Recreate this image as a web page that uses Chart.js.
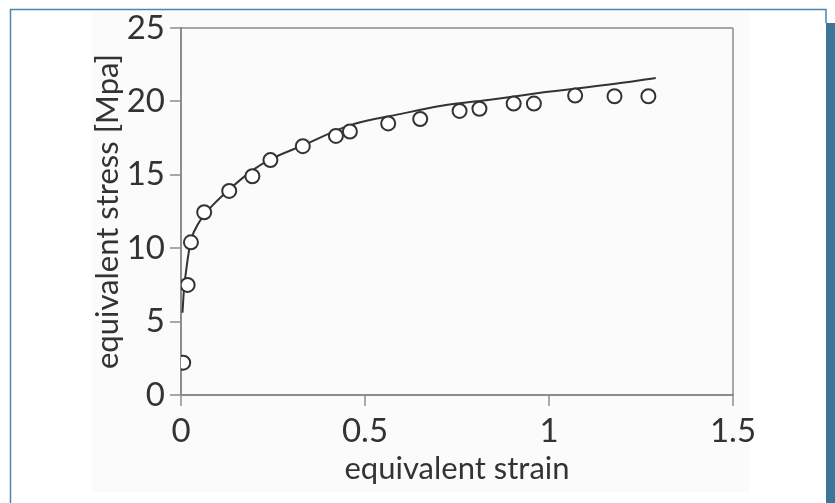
<!DOCTYPE html>
<html>
<head>
<meta charset="utf-8">
<script src="https://cdn.jsdelivr.net/npm/chart.js@4/dist/chart.umd.min.js"></script>
<style>
  html, body { margin: 0; padding: 0; background: #fff; }
  #wrap { width: 835px; height: 503px; position: relative; }
</style>
</head>
<body>
<div id="wrap"><canvas id="myChart"></canvas></div>
<script>
// measured points
const strainPts = [0.006, 0.018, 0.027, 0.063, 0.131, 0.194, 0.243, 0.331, 0.421, 0.459, 0.563, 0.650, 0.757, 0.811, 0.904, 0.959, 1.071, 1.178, 1.270];
const stressPts = [2.2, 7.5, 10.4, 12.45, 13.9, 14.9, 16.0, 16.95, 17.65, 17.95, 18.5, 18.8, 19.35, 19.5, 19.85, 19.85, 20.4, 20.35, 20.35];

// fitted curve
const strainFit = [0.004, 0.008, 0.016, 0.027, 0.05, 0.087, 0.131, 0.194, 0.243, 0.331, 0.462, 0.598, 0.708, 0.85, 0.981, 1.164, 1.29];
const stressFit = [5.6, 7.15, 8.86, 10.5, 11.8, 12.95, 14.0, 15.3, 16.05, 17.0, 18.4, 19.15, 19.7, 20.15, 20.6, 21.15, 21.6];

const xTicks = [0, 0.5, 1, 1.5];
const yTicks = [0, 5, 10, 15, 20, 25];

const axisGrey = "#8c8c8c";
const boxGrey = "#a6a6a6";
const ink = "#333333";
const tickFont = { family: "Lato", size: 33 };
const titleFont = { family: "Lato", size: 31 };

const framePlugin = {
  id: "frame",
  beforeDraw(chart) {
    const ctx = chart.ctx;
    ctx.save();
    ctx.fillStyle = "#ffffff";
    ctx.fillRect(0, 0, chart.width, chart.height);
    ctx.fillStyle = "#fbfbfb";
    ctx.fillRect(92, 12, 658, 480);
    ctx.strokeStyle = "#4a86b0";
    ctx.lineWidth = 1.5;
    ctx.beginPath();
    ctx.moveTo(10.5, chart.height);
    ctx.lineTo(10.5, 9.5);
    ctx.lineTo(826, 9.5);
    ctx.lineTo(826, 23);
    ctx.stroke();
    ctx.fillStyle = "#3b7698";
    ctx.fillRect(826, 23, 9, chart.height - 23);
    ctx.restore();
  }
};

const data = {
  datasets: [
    {
      type: "scatter",
      data: strainPts.map((x, i) => ({ x: x, y: stressPts[i] })),
      pointRadius: 7,
      pointHoverRadius: 7,
      pointBorderWidth: 2,
      pointBorderColor: ink,
      pointBackgroundColor: "#ffffff",
      showLine: false,
    },
    {
      type: "line",
      data: strainFit.map((x, i) => ({ x: x, y: stressFit[i] })),
      borderColor: ink,
      borderWidth: 2,
      pointRadius: 0,
      cubicInterpolationMode: "monotone",
      fill: false,
    },
  ],
};

const options = {
  responsive: false,
  animation: false,
  events: [],
  layout: { padding: { left: 0, top: 28, right: 102, bottom: 0 } },
  plugins: {
    legend: { display: false },
    tooltip: { enabled: false },
  },
  scales: {
    x: {
      type: "linear",
      min: 0,
      max: 1.5,
      afterBuildTicks: (s) => { s.ticks = xTicks.map((v) => ({ value: v })); },
      afterFit: (s) => { s.height = 108; },
      ticks: {
        color: ink,
        font: tickFont,
        padding: 6,
        maxRotation: 0,
        callback: (v) => String(v),
      },
      grid: {
        color: (c) => (c.tick && c.tick.value === 1.5 ? boxGrey : "transparent"),
        lineWidth: 2,
        tickColor: axisGrey,
        tickLength: 11,
        tickWidth: 1.5,
      },
      border: { display: true, color: axisGrey, width: 2 },
      title: {
        display: true,
        text: "equivalent strain",
        color: ink,
        font: titleFont,
        padding: { top: 0, bottom: 15 },
      },
    },
    y: {
      type: "linear",
      min: 0,
      max: 25,
      afterBuildTicks: (s) => { s.ticks = yTicks.map((v) => ({ value: v })); },
      afterFit: (s) => { s.width = 181; },
      ticks: {
        color: ink,
        font: tickFont,
        padding: 5,
      },
      grid: {
        color: (c) => (c.tick && c.tick.value === 25 ? boxGrey : "transparent"),
        lineWidth: 2,
        tickColor: axisGrey,
        tickLength: 11,
        tickWidth: 1.5,
      },
      border: { display: true, color: axisGrey, width: 2 },
      title: {
        display: true,
        text: "equivalent stress [Mpa]",
        color: ink,
        font: titleFont,
        padding: { top: 89, bottom: 0 },
      },
    },
  },
};

const canvas = document.getElementById("myChart");
canvas.width = 835;
canvas.height = 503;

const myChart = new Chart(canvas, {
  type: "scatter",
  data: data,
  options,
  plugins: [framePlugin],
});
</script>
</body>
</html>
